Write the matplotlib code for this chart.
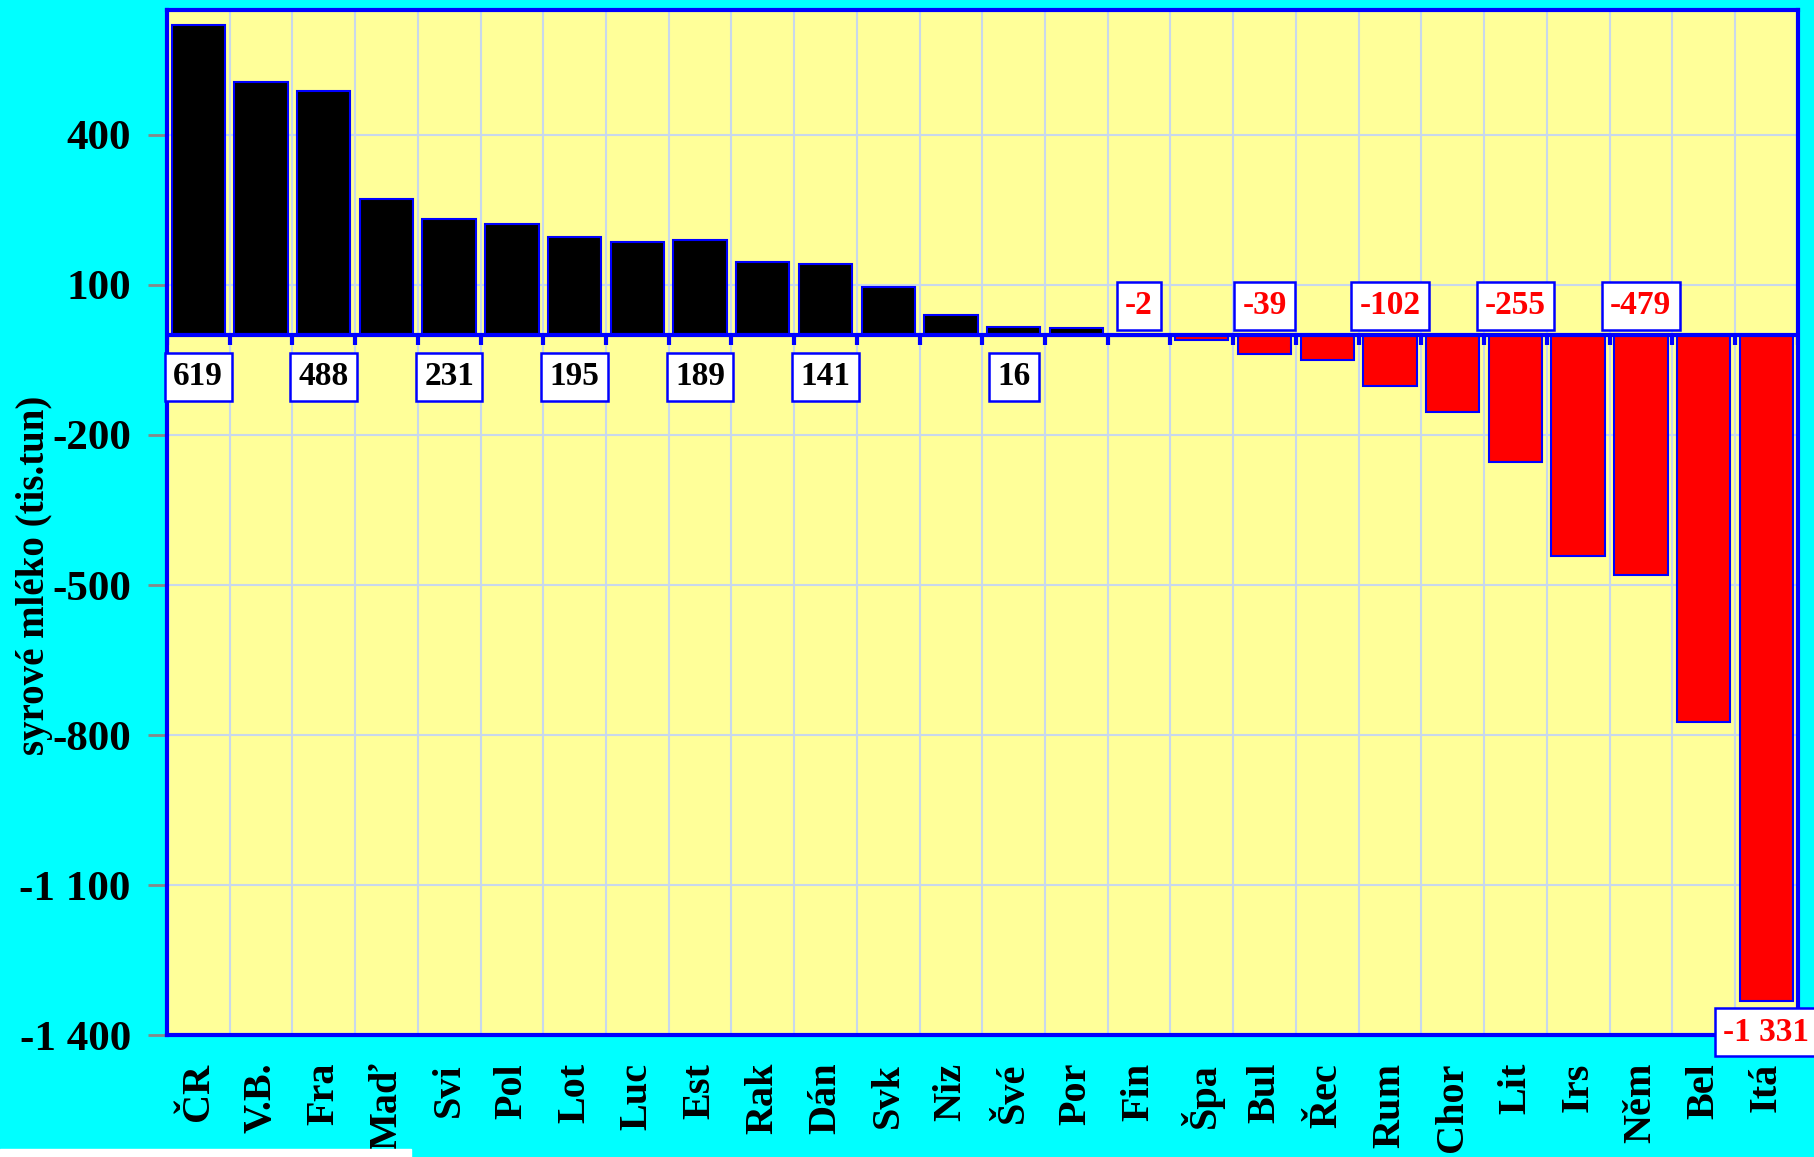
import matplotlib
matplotlib.use('Agg')
import matplotlib.pyplot as plt
from matplotlib.patches import Rectangle
import numpy as np

# data
countries = ['ČR', 'V.B.', 'Fra', 'Maď', 'Svi', 'Pol', 'Lot', 'Luc', 'Est', 'Rak', 'Dán', 'Svk', 'Niz',
             'Švé', 'Por', 'Fin', 'Špa', 'Bul', 'Řec', 'Rum', 'Chor', 'Lit', 'Irs', 'Něm', 'Bel', 'Itá']
values = [619, 506, 488, 272, 231, 222, 195, 186, 189, 145, 141, 96, 40,
          16, 14, -2, -11, -39, -51, -102, -155, -255, -442, -479, -774, -1331]
labelled = [0, 2, 4, 6, 8, 10, 13, 15, 17, 19, 21, 23, 25]   # bars with value boxes
yticks = [400, 100, -200, -500, -800, -1100, -1400]

plt.rcParams['font.family'] = ['Liberation Serif', 'DejaVu Serif']
plt.rcParams['font.weight'] = 'bold'

fig = plt.figure(figsize=(18.14, 11.57), dpi=100, facecolor='#00FFFF')
ax = fig.add_axes([0.092, 0.1054, 0.899, 0.886])
ax.set_facecolor('#FFFF99')

x = np.arange(len(countries))
cols = ['black' if v >= 0 else '#FF0000' for v in values]
ax.bar(x, values, width=0.85, color=cols, edgecolor='#0000FF', linewidth=1.5, zorder=3)

ax.set_xlim(-0.5, len(countries) - 0.5)
ax.set_ylim(-1400, 650)

# grid on category boundaries and y ticks
bounds = np.arange(len(countries) + 1) - 0.5
ax.set_xticks(bounds, minor=True)
ax.grid(which='minor', axis='x', color='#C8D8EC', lw=1.5, zorder=1)
ax.set_yticks(yticks)
ax.set_yticklabels([f'{t:,}'.replace(',', ' ') for t in yticks], fontsize=31, fontweight='bold')
ax.grid(which='major', axis='y', color='#C8D8EC', lw=1.5, zorder=1)
ax.tick_params(axis='y', length=14, width=2, color='#888888', pad=12)
ax.tick_params(axis='x', which='both', length=0)

ax.set_xticks(x)
ax.set_xticklabels(countries, rotation=90, fontsize=29, fontweight='bold', va='top', ha='center')
ax.tick_params(axis='x', pad=20)

# zero line with little ticks
ax.axhline(0, color='#0000FF', lw=3, zorder=4)
ax.vlines(bounds, -20, 0, color='#0000FF', lw=3, zorder=4)

for s in ax.spines.values():
    s.set_color('#0000FF')
    s.set_linewidth(3)

fig.text(35 / 1814, 1 - 575 / 1157, 'syrové mléko (tis.tun)', rotation=90, ha='center', va='center',
         fontsize=28, fontweight='bold')

# value boxes
for i in labelled:
    v = values[i]
    txt = f'{v:,}'.replace(',', ' ')
    if i == len(values) - 1:
        y = v - 63
        c = '#FF0000'
    elif v >= 0:
        y = -84
        c = 'black'
    else:
        y = 58
        c = '#FF0000'
    ax.text(x[i], y, txt, ha='center', va='center', fontsize=24, fontweight='bold', color=c,
            zorder=6, clip_on=False,
            bbox=dict(boxstyle='square,pad=0.25', fc='white', ec='#0000FF', lw=1.8))

fig.add_artist(Rectangle((0, 0), 411 / 1814, 8 / 1157, transform=fig.transFigure,
                         color='white', zorder=10))

fig.savefig('out.png', dpi=100, facecolor=fig.get_facecolor())
